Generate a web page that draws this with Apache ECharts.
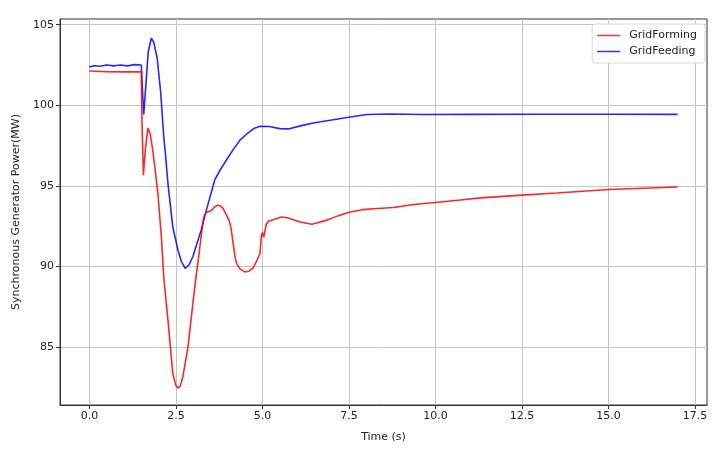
<!DOCTYPE html>
<html>
<head>
<meta charset="utf-8">
<script src="https://cdn.jsdelivr.net/npm/echarts@6/dist/echarts.min.js"></script>
<style>html,body{margin:0;padding:0;background:#fff}#c{width:724px;height:458px}</style>
</head>
<body>
<div id="c"></div>
<script>
const seriesNames = ['GridForming', 'GridFeeding'];
const xTicks = [0, 2.5, 5, 7.5, 10, 12.5, 15, 17.5];
const yTicks = [85, 90, 95, 100, 105];

const timeRed = [0, 0.5, 1.0, 1.5, 1.52, 1.56, 1.62, 1.69, 1.76, 1.83, 1.90, 1.98, 2.08, 2.15, 2.27, 2.41, 2.50, 2.56, 2.63, 2.70, 2.85, 2.99, 3.09, 3.16, 3.23, 3.30, 3.37, 3.52, 3.62, 3.72, 3.80, 3.86, 3.96, 4.05, 4.10, 4.15, 4.20, 4.25, 4.35, 4.49, 4.61, 4.73, 4.85, 4.93, 4.97, 5.00, 5.04, 5.11, 5.17, 5.31, 5.55, 5.75, 6.09, 6.43, 6.86, 7.20, 7.54, 7.90, 8.21, 8.79, 9.37, 10.14, 10.72, 11.30, 12.51, 13.5, 15.02, 16.0, 17.0];
const powerRed = [102.12, 102.08, 102.07, 102.07, 99.0, 95.66, 97.3, 98.59, 98.2, 97.2, 96.0, 94.52, 91.83, 89.3, 86.67, 83.36, 82.6, 82.45, 82.6, 83.15, 85.0, 87.7, 89.5, 90.6, 91.9, 93.0, 93.35, 93.45, 93.7, 93.8, 93.75, 93.6, 93.2, 92.76, 92.3, 91.5, 90.7, 90.2, 89.85, 89.66, 89.7, 89.9, 90.4, 90.8, 91.9, 92.1, 91.8, 92.6, 92.8, 92.9, 93.07, 93.0, 92.76, 92.62, 92.87, 93.15, 93.38, 93.52, 93.58, 93.65, 93.84, 94.0, 94.12, 94.25, 94.42, 94.55, 94.77, 94.85, 94.93];

const timeBlue = [0, 0.15, 0.3, 0.5, 0.7, 0.9, 1.1, 1.3, 1.5, 1.52, 1.57, 1.63, 1.70, 1.79, 1.86, 1.96, 2.06, 2.15, 2.20, 2.27, 2.41, 2.56, 2.66, 2.77, 2.88, 2.99, 3.09, 3.23, 3.38, 3.62, 3.77, 3.96, 4.15, 4.35, 4.54, 4.75, 4.93, 5.2, 5.5, 5.75, 6.10, 6.47, 7.0, 7.54, 8.02, 8.70, 9.66, 11.0, 13.0, 15.0, 17.0];
const powerBlue = [102.38, 102.45, 102.42, 102.5, 102.44, 102.5, 102.44, 102.52, 102.5, 101.5, 99.42, 101.2, 103.3, 104.17, 103.9, 102.9, 100.8, 98.0, 96.9, 95.14, 92.45, 91.0, 90.3, 89.87, 90.1, 90.6, 91.3, 92.25, 93.49, 95.35, 95.95, 96.6, 97.23, 97.83, 98.2, 98.55, 98.7, 98.68, 98.55, 98.53, 98.72, 98.9, 99.08, 99.27, 99.42, 99.46, 99.42, 99.43, 99.44, 99.44, 99.43];

const pair = (t, p) => t.map((x, i) => [x, p[i]]);
const font = 'DejaVu Sans';
const chart = echarts.init(document.getElementById('c'), null, {renderer: 'canvas'});
chart.setOption({
  animation: false,
  backgroundColor: '#fff',
  textStyle: {fontFamily: font},
  grid: {left: 60, right: 17, top: 19, bottom: 53, show: true, borderColor: '#333', borderWidth: 1, backgroundColor: 'transparent'},
  legend: {
    data: seriesNames, orient: 'vertical', right: 19, top: 24,
    icon: 'rect', itemWidth: 23, itemHeight: 1.5, itemGap: 5,
    itemStyle: {opacity: 0.8},
    padding: [6, 8, 6, 5],
    backgroundColor: '#fff', borderColor: '#d8d8d8', borderWidth: 1, borderRadius: 3,
    textStyle: {fontFamily: font, fontSize: 11, color: '#222', padding: [0, 0, 0, 4]}
  },
  xAxis: {
    type: 'value', min: -0.85, max: 17.85,
    name: 'Time (s)', nameLocation: 'middle', nameGap: 27,
    nameTextStyle: {fontFamily: font, fontSize: 11, color: '#222'},
    axisLine: {show: true, onZero: false, lineStyle: {color: '#333', width: 1}},
    axisTick: {show: true, length: 4, customValues: xTicks, lineStyle: {color: '#333'}},
    axisLabel: {customValues: xTicks, fontFamily: font, fontSize: 11, color: '#222', margin: 6,
      formatter: v => v.toFixed(1)},
    splitLine: {show: true, lineStyle: {color: '#c4c4c4', width: 1}}
  },
  yAxis: {
    type: 'value', min: 81.4, max: 105.35,
    name: 'Synchronous Generator Power(MW)', nameLocation: 'middle', nameGap: 32,
    nameTextStyle: {fontFamily: font, fontSize: 11, color: '#222'},
    axisLine: {show: true, onZero: false, lineStyle: {color: '#333', width: 1}},
    axisTick: {show: true, length: 4, customValues: yTicks, lineStyle: {color: '#333'}},
    axisLabel: {customValues: yTicks, fontFamily: font, fontSize: 11, color: '#222', margin: 6},
    splitLine: {show: true, lineStyle: {color: '#c4c4c4', width: 1}}
  },
  series: [
    {name: seriesNames[0], type: 'line', data: pair(timeRed, powerRed), symbol: 'none', smooth: false,
      color: '#ff0000', lineStyle: {width: 1.6, color: '#ff0000', opacity: 0.85}, z: 3},
    {name: seriesNames[1], type: 'line', data: pair(timeBlue, powerBlue), symbol: 'none', smooth: false,
      color: '#0000ff', lineStyle: {width: 1.6, color: '#0000ff', opacity: 0.85}, z: 2}
  ]
});
</script>
</body>
</html>
